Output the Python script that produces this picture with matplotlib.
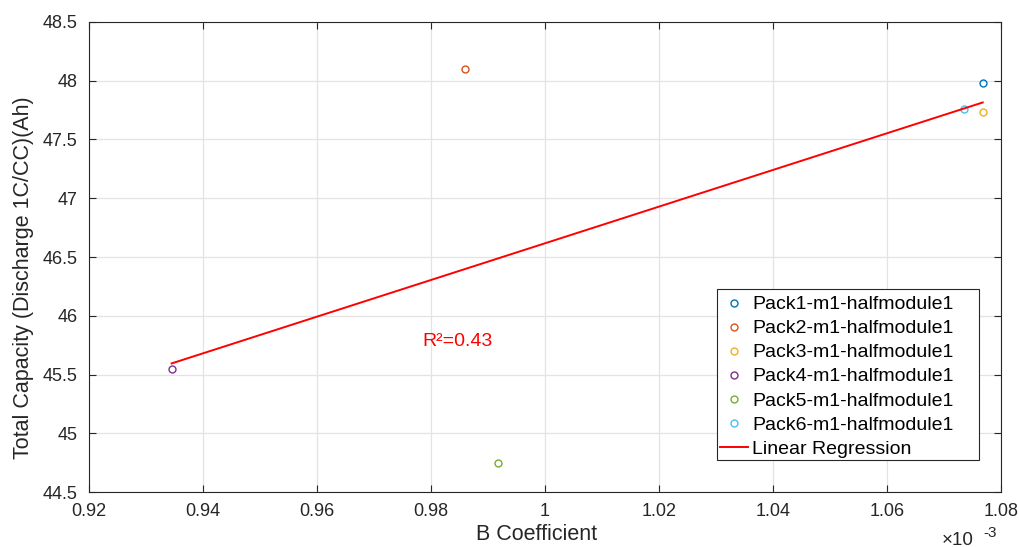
import numpy as np
import matplotlib.pyplot as plt
from matplotlib.patches import Rectangle

# --- Data ---
packs = ['Pack1-m1-halfmodule1', 'Pack2-m1-halfmodule1', 'Pack3-m1-halfmodule1',
         'Pack4-m1-halfmodule1', 'Pack5-m1-halfmodule1', 'Pack6-m1-halfmodule1']
b_coef = [1.0768e-3, 0.9860e-3, 1.0768e-3, 0.9345e-3, 0.9918e-3, 1.0735e-3]
capacity = [47.985, 48.10, 47.735, 45.55, 44.745, 47.76]
colors = ['#0072BD', '#D95319', '#EDB120', '#7E2F8E', '#77AC30', '#4DBEEE']

plt.rcParams['font.family'] = ['Liberation Sans', 'DejaVu Sans']
dark = '#262626'

fig = plt.figure(figsize=(10.19, 5.47), dpi=100)
ax = fig.add_axes([0.0873, 0.1005, 0.8950, 0.8593])

for name, x, y, c in zip(packs, b_coef, capacity, colors):
    ax.plot(x, y, 'o', mfc='none', mec=c, ms=5, mew=1.0, label=name)

# Linear regression line
slope, intercept = np.polyfit(b_coef, capacity, 1)
xs = np.array([min(b_coef), max(b_coef)])
ax.plot(xs, slope * xs + intercept, color='red', lw=1.4, label='Linear Regression')

ax.text(0.9846e-3, 45.78, 'R²=0.43', color='red', fontsize=14, ha='center', va='center')

ax.set_xlim(0.92e-3, 1.08e-3)
ax.set_ylim(44.5, 48.5)
xt = np.arange(0.92, 1.0801, 0.02)
ax.set_xticks(xt * 1e-3)
ax.set_xticklabels([f'{v:g}' for v in np.round(xt, 2)])
yt = np.arange(44.5, 48.51, 0.5)
ax.set_yticks(yt)
ax.set_yticklabels([f'{v:g}' for v in yt])
ax.tick_params(direction='in', labelsize=13, colors=dark, length=5, top=True, right=True)
ax.tick_params(axis='x', pad=8)
ax.tick_params(axis='y', pad=8)
ax.grid(True, color='#e3e3e3', lw=0.9)
ax.set_axisbelow(True)
for s in ax.spines.values():
    s.set_color(dark)
    s.set_linewidth(0.8)

ax.set_xlabel('B Coefficient', fontsize=15.5, color=dark)
ax.set_ylabel('Total Capacity (Discharge 1C/CC)(Ah)', fontsize=15.5, color=dark)
ax.xaxis.set_label_coords(0.4907, -0.068)
ax.yaxis.set_label_coords(-0.060, 0.456)

# exponent label in the MATLAB style
fig.text(942 / 1019, (547 - 545) / 547, '×10', fontsize=13.5, color=dark, va='baseline')
fig.text(983 / 1019, (547 - 537) / 547, '-3', fontsize=11, color=dark, va='baseline')

# legend: box drawn separately (MATLAB leaves extra room on the right)
ax.add_patch(Rectangle((0.6886, 0.0681), 0.2873, 0.3638, transform=ax.transAxes,
                       facecolor='white', edgecolor=dark, lw=0.8, zorder=4))
leg = ax.legend(loc='upper left', bbox_to_anchor=(0.6919, 0.4175), borderaxespad=0,
                fontsize=14, frameon=False, handlelength=1.45, handletextpad=0.2,
                borderpad=0, labelspacing=0.33)
leg.set_zorder(5)

fig.savefig('out.png', dpi=100)
